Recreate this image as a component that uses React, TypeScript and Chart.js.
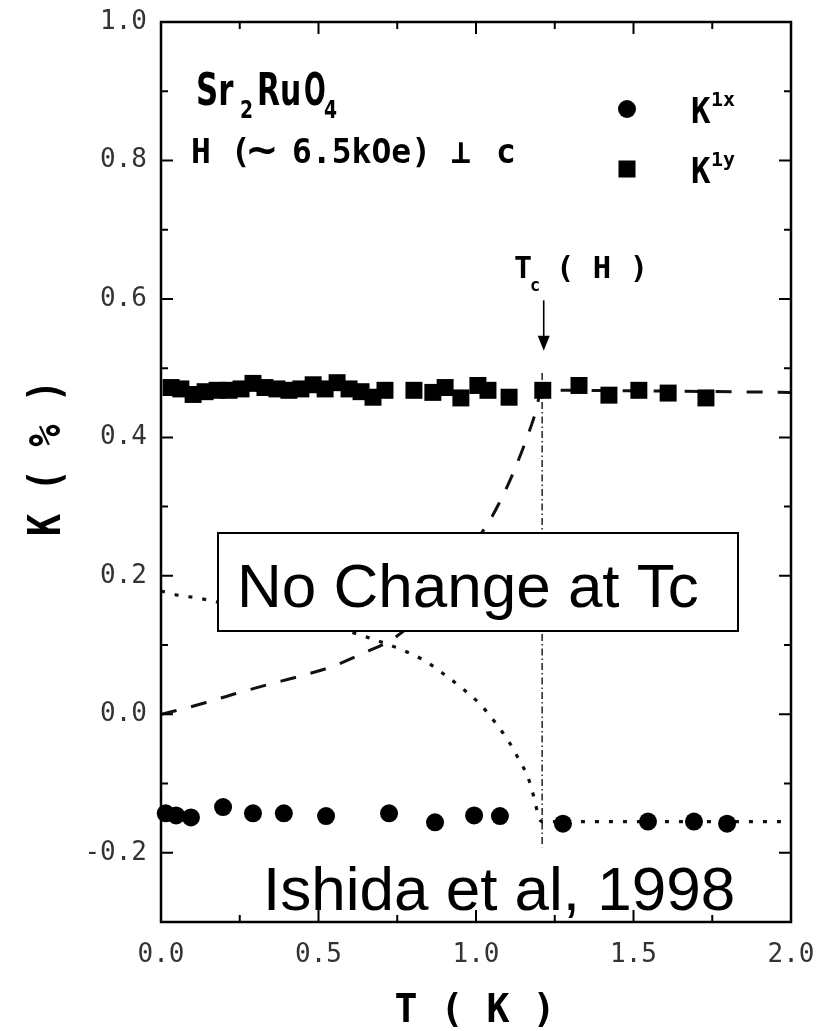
import React, { useEffect, useRef } from 'react';
import { Chart, registerables } from 'chart.js';

Chart.register(...registerables);

// ---- data ----
const T_C = 1.21;

const circleT = [0.015, 0.048, 0.095, 0.197, 0.292, 0.39, 0.524, 0.724, 0.87, 0.994, 1.076, 1.276, 1.546, 1.692, 1.797];
const circleK = [-0.143, -0.146, -0.149, -0.134, -0.143, -0.143, -0.147, -0.143, -0.156, -0.146, -0.147, -0.158, -0.155, -0.155, -0.158];

const squareT = [0.032, 0.063, 0.102, 0.14, 0.178, 0.216, 0.254, 0.292, 0.33, 0.368, 0.406, 0.444, 0.483, 0.521, 0.559, 0.597, 0.635, 0.673, 0.711,
  0.803, 0.863, 0.902, 0.952, 1.006, 1.038, 1.105, 1.212, 1.327, 1.422, 1.517, 1.61, 1.73];
const squareK = [0.472, 0.47, 0.462, 0.466, 0.468, 0.468, 0.47, 0.478, 0.472, 0.47, 0.468, 0.47, 0.476, 0.47, 0.479, 0.47, 0.466, 0.458, 0.468,
  0.468, 0.465, 0.472, 0.457, 0.475, 0.468, 0.458, 0.468, 0.475, 0.461, 0.468, 0.464, 0.457];

// dashed guide (K1y)
const dashT = [0, 0.054, 0.143, 0.238, 0.34, 0.441, 0.543, 0.641, 0.743, 0.85, 0.95, 1.0, 1.05, 1.1, 1.15, 1.185, 1.21, 2.0];
const dashK = [0, 0.006, 0.017, 0.03, 0.043, 0.055, 0.069, 0.088, 0.111, 0.155, 0.215, 0.25, 0.285, 0.33, 0.385, 0.43, 0.468, 0.465];

// dotted guide (K1x)
const dotT = [0, 0.054, 0.117, 0.181, 0.3, 0.45, 0.57, 0.657, 0.771, 0.835, 0.895, 0.952, 1.01, 1.063, 1.105, 1.137, 1.165, 1.184, 1.2, 1.21, 2.0];
const dotK = [0.178, 0.172, 0.168, 0.162, 0.152, 0.137, 0.123, 0.111, 0.092, 0.078, 0.059, 0.039, 0.016, -0.013, -0.04, -0.066, -0.091, -0.12, -0.15, -0.155, -0.155];

const vlineK = [0.493, -0.192];

const xTicks = [0, 0.5, 1.0, 1.5, 2.0];
const yTicks = [-0.2, 0, 0.2, 0.4, 0.6, 0.8, 1.0];
const xMinor = [0.25, 0.75, 1.25, 1.75];
const yMinor = [-0.1, 0.1, 0.3, 0.5, 0.7, 0.9];

const MONO = '"DejaVu Sans Mono", monospace';
const SANS = '"Liberation Sans", Arial, sans-serif';

function txt(ctx: CanvasRenderingContext2D, s: string, x: number, y: number, font: string, sx = 1, align: CanvasTextAlign = 'left') {
  ctx.save();
  ctx.font = font;
  ctx.textAlign = align;
  ctx.textBaseline = 'alphabetic';
  ctx.translate(x, y);
  ctx.scale(sx, 1);
  ctx.fillText(s, 0, 0);
  ctx.restore();
}

const framePlugin = {
  id: 'frame',
  afterDatasetsDraw(chart: any) {
    const { ctx, chartArea, scales } = chart;
    const { left, right, top, bottom } = chartArea;
    const xs = scales.x;
    const ys = scales.y;
    ctx.save();
    ctx.strokeStyle = '#000';
    ctx.fillStyle = '#000';

    // frame
    ctx.lineWidth = 2.5;
    ctx.strokeRect(left, top, right - left, bottom - top);

    // inner ticks
    ctx.lineWidth = 2;
    ctx.beginPath();
    const yt = (v: number, len: number) => {
      const p = ys.getPixelForValue(v);
      ctx.moveTo(left, p); ctx.lineTo(left + len, p);
      ctx.moveTo(right, p); ctx.lineTo(right - len, p);
    };
    const xt = (v: number, len: number) => {
      const p = xs.getPixelForValue(v);
      ctx.moveTo(p, bottom); ctx.lineTo(p, bottom - len);
      ctx.moveTo(p, top); ctx.lineTo(p, top + len);
    };
    yTicks.forEach(v => yt(v, 12));
    yMinor.forEach(v => yt(v, 7));
    xTicks.forEach(v => xt(v, 12));
    xMinor.forEach(v => xt(v, 7));
    ctx.stroke();

    // Tc arrow
    const ax = xs.getPixelForValue(T_C + 0.005);
    const ay1 = ys.getPixelForValue(0.598);
    const ay2 = ys.getPixelForValue(0.525);
    ctx.lineWidth = 1.6;
    ctx.beginPath();
    ctx.moveTo(ax, ay1); ctx.lineTo(ax, ay2 - 10);
    ctx.stroke();
    ctx.beginPath();
    ctx.moveTo(ax - 6, ay2 - 15); ctx.lineTo(ax + 6, ay2 - 15); ctx.lineTo(ax, ay2);
    ctx.closePath();
    ctx.fill();

    // Tc ( H ) label
    txt(ctx, 'T', 514, 278, `bold 30px ${MONO}`);
    txt(ctx, 'c', 530, 291, `bold 17px ${MONO}`);
    txt(ctx, '( H )', 556, 278, `bold 30px ${MONO}`, 1.02);

    // compound label
    txt(ctx, 'Sr', 196, 105, `bold 44px "DejaVu Sans", sans-serif`, 0.7);
    txt(ctx, '2', 240, 118, `bold 25px "DejaVu Sans", sans-serif`, 0.75);
    txt(ctx, 'Ru', 257, 105, `bold 44px "DejaVu Sans", sans-serif`, 0.68);
    txt(ctx, 'O', 304, 105, `bold 44px "DejaVu Sans", sans-serif`, 0.58);
    txt(ctx, '4', 324, 118, `bold 25px "DejaVu Sans", sans-serif`, 0.75);

    txt(ctx, 'H (', 191, 163, `bold 33px ${MONO}`, 1.0);
    txt(ctx, '∼', 262, 163, `bold 40px "DejaVu Sans", sans-serif`, 1.0, 'center');
    txt(ctx, '6.5kOe)', 292, 163, `bold 33px ${MONO}`, 1.0);
    txt(ctx, '⊥', 461, 163, `bold 33px ${MONO}`, 1.0, 'center');
    txt(ctx, 'c', 496, 163, `bold 33px ${MONO}`, 1.0);

    // legend
    ctx.beginPath();
    ctx.arc(627, 109, 9, 0, Math.PI * 2);
    ctx.fill();
    ctx.fillRect(618.5, 160.5, 17, 17);
    txt(ctx, 'K', 691, 123, `bold 36px ${MONO}`, 0.9);
    txt(ctx, '1x', 711, 106, `bold 20px ${MONO}`, 1.0);
    txt(ctx, 'K', 691, 183, `bold 36px ${MONO}`, 0.9);
    txt(ctx, '1y', 711, 166, `bold 20px ${MONO}`, 1.0);

    // axis titles
    txt(ctx, 'T ( K )', 475, 1022, `bold 39px ${MONO}`, 0.98, 'center');
    ctx.save();
    ctx.translate(60, 458);
    ctx.rotate(-Math.PI / 2);
    txt(ctx, 'K ( % )', 0, 0, `bold 44px ${MONO}`, 0.84, 'center');
    ctx.restore();

    // boxed note
    ctx.fillStyle = '#fff';
    ctx.fillRect(218, 533, 520, 98);
    ctx.lineWidth = 2;
    ctx.strokeStyle = '#000';
    ctx.strokeRect(218, 533, 520, 98);
    ctx.fillStyle = '#000';
    txt(ctx, 'No Change at Tc', 237, 607, `62px ${SANS}`);

    // citation
    txt(ctx, 'Ishida et al, 1998', 263, 910, `62px ${SANS}`);

    ctx.restore();
  },
};

export default function App() {
  const ref = useRef<HTMLCanvasElement | null>(null);

  useEffect(() => {
    document.body.style.margin = '0';
    const canvas = ref.current;
    if (!canvas) return;
    const pts = (xs: number[], ys: number[]) => xs.map((x, i) => ({ x, y: ys[i] }));
    const chart = new Chart(canvas, {
      type: 'scatter',
      data: {
        datasets: [
          {
            label: 'K1x',
            data: pts(circleT, circleK),
            pointStyle: 'circle',
            pointRadius: 9,
            backgroundColor: '#000',
            borderColor: '#000',
            borderWidth: 0,
            showLine: false,
            clip: false,
            order: 0,
          } as any,
          {
            label: 'K1y',
            data: pts(squareT, squareK),
            pointStyle: 'rect',
            pointRadius: 12,
            backgroundColor: '#000',
            borderColor: '#000',
            borderWidth: 0,
            showLine: false,
            order: 1,
          } as any,
          {
            type: 'line',
            label: 'dashed',
            data: pts(dashT, dashK),
            borderColor: '#111',
            borderWidth: 3,
            borderDash: [16, 15],
            pointRadius: 0,
            fill: false,
            cubicInterpolationMode: 'monotone',
            order: 2,
          } as any,
          {
            type: 'line',
            label: 'dotted',
            data: pts(dotT, dotK),
            borderColor: '#111',
            borderWidth: 3.2,
            borderDash: [4, 10],
            pointRadius: 0,
            fill: false,
            cubicInterpolationMode: 'monotone',
            order: 3,
          } as any,
          {
            type: 'line',
            label: 'Tc',
            data: vlineK.map(k => ({ x: T_C, y: k })),
            borderColor: '#222',
            borderWidth: 1.5,
            borderDash: [7, 3, 1.5, 3],
            pointRadius: 0,
            fill: false,
            order: 4,
          } as any,
        ],
      },
      options: {
        responsive: false,
        animation: false,
        devicePixelRatio: 1,
        layout: { padding: { left: 0, right: 31, top: 22, bottom: 0 } },
        plugins: { legend: { display: false }, tooltip: { enabled: false } },
        scales: {
          x: {
            type: 'linear',
            min: 0,
            max: 2,
            grid: { display: false, drawTicks: false },
            border: { display: false },
            afterBuildTicks: (s: any) => { s.ticks = xTicks.map(v => ({ value: v })); },
            afterFit: (s: any) => { s.height = 109; s.paddingLeft = 0; s.paddingRight = 0; },
            ticks: {
              callback: (v: any) => Number(v).toFixed(1),
              font: { family: MONO, size: 26 },
              color: '#333',
              padding: 18,
              maxRotation: 0,
              autoSkip: false,
            },
          },
          y: {
            type: 'linear',
            min: -0.3,
            max: 1.0,
            grid: { display: false, drawTicks: false },
            border: { display: false },
            afterBuildTicks: (s: any) => { s.ticks = yTicks.map(v => ({ value: v })); },
            afterFit: (s: any) => { s.width = 161; s.paddingTop = 0; s.paddingBottom = 0; },
            ticks: {
              callback: (v: any) => Number(v).toFixed(1),
              font: { family: MONO, size: 26 },
              color: '#333',
              padding: 14,
              autoSkip: false,
            },
          },
        },
      } as any,
      plugins: [framePlugin],
    });
    return () => chart.destroy();
  }, []);

  return (
    <div style={{ width: 822, height: 1031 }}>
      <canvas ref={ref} width={822} height={1031} style={{ display: 'block' }} />
    </div>
  );
}
